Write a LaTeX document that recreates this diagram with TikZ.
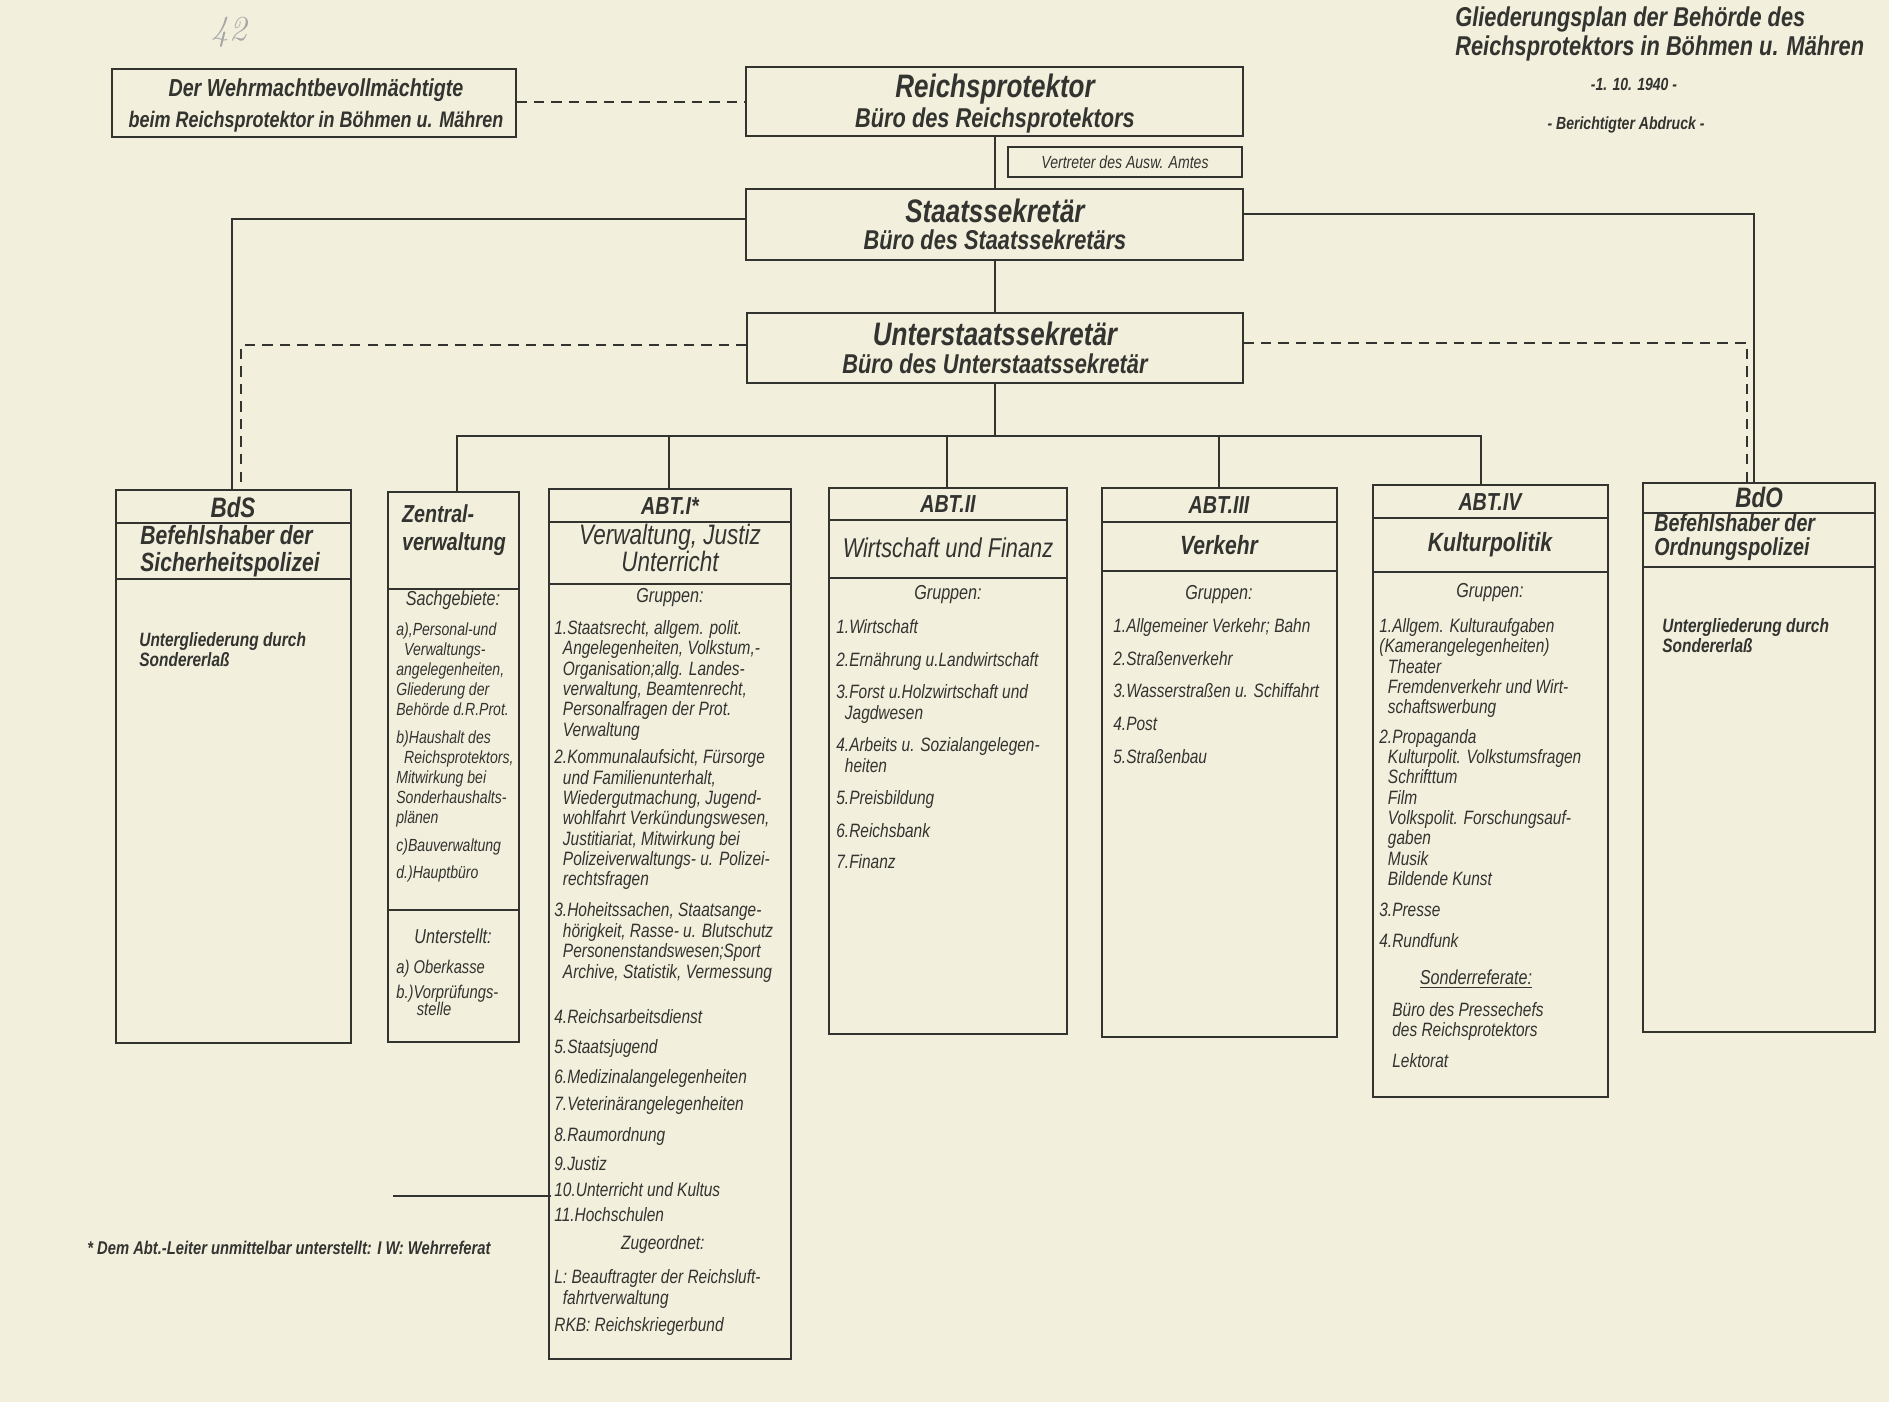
\documentclass[tikz,border=0pt]{standalone}
\usepackage{fontspec}
\newfontfamily\hf{Liberation Sans}[FakeStretch=0.8]
\begin{document}
\begin{tikzpicture}[x=0.02cm,y=-0.02cm,
  box/.style={draw=ink,line width=1.5pt},
  conn/.style={draw=ink,line width=1.1pt},
  dl/.style={draw=ink,line width=1.1pt,dash pattern=on 6pt off 4pt},
  big/.style={text=ink,font=\hf\bfseries\itshape\fontsize{18.5}{19}\selectfont,inner sep=0},
  sub/.style={text=ink,font=\hf\bfseries\itshape\fontsize{15.5}{16}\selectfont,inner sep=0},
  hd/.style={text=ink,font=\hf\bfseries\itshape\fontsize{13}{13.5}\selectfont,inner sep=0,align=center},
  lst/.style={text=ink,font=\hf\itshape\fontsize{11}{11.6}\selectfont,inner sep=0,anchor=north west,align=left},
  ctr/.style={text=ink,font=\hf\itshape\fontsize{11.5}{12}\selectfont,inner sep=0}]
\definecolor{ink}{HTML}{333330}
\definecolor{paper}{HTML}{F2EFDD}
\fill[paper] (0,0) rectangle (1889,1402);
\useasboundingbox (0,0) rectangle (1889,1402);
% handwritten number
\node[text=gray!70,font=\fontsize{20}{20}\selectfont\itshape] (num) at (229,32) {42};
% title
\node[text=ink,font=\hf\bfseries\itshape\fontsize{15.5}{17}\selectfont,align=left,anchor=north west,inner sep=0] (title) at (1455,6) {Gliederungsplan der Behörde des\\Reichsprotektors in Böhmen u. Mähren};
\node[text=ink,font=\hf\bfseries\itshape\fontsize{10}{10}\selectfont] (date) at (1634,84) {-1. 10. 1940 -};
\node[text=ink,font=\hf\bfseries\itshape\fontsize{10}{10}\selectfont] (abdr) at (1626,125) {- Berichtigter Abdruck -};
% top boxes
\draw[box] (112,69) rectangle (516,137); \coordinate (wr) at (516,102);
\node[hd,font=\hf\bfseries\itshape\fontsize{14}{14}\selectfont] (w1) at (316,90) {Der Wehrmachtbevollmächtigte};
\node[hd,font=\hf\bfseries\itshape\fontsize{12.8}{13}\selectfont] (w2) at (316,122) {beim Reichsprotektor in Böhmen u. Mähren};
\draw[box] (746,67) rectangle (1243,136); \coordinate (rl) at (746,102);
\node[big] (rp) at (995,89) {Reichsprotektor};
\node[sub] (rp2) at (995,120) {Büro des Reichsprotektors};
\draw[box,line width=1.2pt] (1008,147) rectangle (1242,177);
\node[text=ink,font=\hf\itshape\fontsize{10}{10}\selectfont] (vt) at (1125,162) {Vertreter des Ausw. Amtes};
\draw[box] (746,189) rectangle (1243,260);
\node[big] (ss) at (995,211) {Staatssekretär};
\node[sub] (ss2) at (995,240) {Büro des Staatssekretärs};
\draw[box] (747,313) rectangle (1243,383);
\node[big] (us) at (995,334) {Unterstaatssekretär};
\node[sub] (us2) at (995,364) {Büro des Unterstaatssekretär};
% connectors
\draw[dl] (wr) -- (rl);
\draw[conn] (995,136) -- (995,189);
\draw[conn] (995,260) -- (995,313);
\draw[conn] (995,383) -- (995,436);
\draw[conn] (746,219) -- (232,219) -- (232,490);
\draw[conn] (1243,214) -- (1754,214) -- (1754,483);
\draw[dl] (747,345) -- (241,345) -- (241,490);
\draw[dl] (1243,343) -- (1747,343) -- (1747,483);
\draw[conn] (457,492) -- (457,436) -- (1481,436) -- (1481,485);
\draw[conn] (669,436) -- (669,489);
\draw[conn] (947,436) -- (947,488);
\draw[conn] (1219,436) -- (1219,488);
% BdS
\draw[box] (116,490) rectangle (351,1043); \draw[box] (116,523) -- (351,523); \draw[box] (116,579) -- (351,579);
\node[hd,font=\hf\bfseries\itshape\fontsize{16}{16}\selectfont] (bds) at (233,507) {BdS};
\node[hd,align=left,font=\hf\bfseries\itshape\fontsize{15}{15.5}\selectfont] (bds2) at (230,551) {Befehlshaber der\\Sicherheitspolizei};
\node[lst,font=\hf\bfseries\itshape\fontsize{11}{11.5}\selectfont] (bds3) at (139,632) {Untergliederung durch\\Sondererlaß};
% Zentral
\draw[box] (388,492) rectangle (519,1042); \draw[box] (388,589) -- (519,589); \draw[box] (388,910) -- (519,910);
\node[hd,align=left,font=\hf\bfseries\itshape\fontsize{14}{16}\selectfont] (zv) at (454,530) {Zentral-\\verwaltung};
\node[ctr] (sg) at (453,600) {Sachgebiete:};
\node[lst,font=\hf\itshape\fontsize{10}{11.5}\selectfont] (zl) at (396,622) {a),Personal-und\\\ \ Verwaltungs-\\angelegenheiten,\\Gliederung der\\Behörde d.R.Prot.\\[4pt]b)Haushalt des\\\ \ Reichsprotektors,\\Mitwirkung bei\\Sonderhaushalts-\\plänen\\[4pt]c)Bauverwaltung\\[4pt]d.)Hauptbüro};
\node[ctr] (ust) at (453,936) {Unterstellt:};
\node[lst,font=\hf\itshape\fontsize{10.5}{10}\selectfont] (zl2) at (396,960) {a) Oberkasse\\[4pt]b.)Vorprüfungs-\\\ \ \ \ \ stelle};
% ABT I
\draw[box] (549,489) rectangle (791,1359); \draw[box] (549,522) -- (791,522); \draw[box] (549,584) -- (791,584);
\node[hd,font=\hf\bfseries\itshape\fontsize{14}{14}\selectfont] (a1) at (670,506) {ABT.I*};
\node[hd,font=\hf\itshape\fontsize{16}{15}\selectfont] (a1b) at (670,548) {Verwaltung, Justiz\\Unterricht};
\node[ctr] (g1) at (670,598) {Gruppen:};
\node[lst] (l1) at (554,620) {1.Staatsrecht, allgem. polit.\\\ \ Angelegenheiten, Volkstum,-\\\ \ Organisation;allg. Landes-\\\ \ verwaltung, Beamtenrecht,\\\ \ Personalfragen der Prot.\\\ \ Verwaltung\\[4pt]2.Kommunalaufsicht, Fürsorge\\\ \ und Familienunterhalt,\\\ \ Wiedergutmachung, Jugend-\\\ \ wohlfahrt Verkündungswesen,\\\ \ Justitiariat, Mitwirkung bei\\\ \ Polizeiverwaltungs- u. Polizei-\\\ \ rechtsfragen\\[6pt]3.Hoheitssachen, Staatsange-\\\ \ hörigkeit, Rasse- u. Blutschutz\\\ \ Personenstandswesen;Sport\\\ \ Archive, Statistik, Vermessung\\[14pt]4.Reichsarbeitsdienst\\[6pt]5.Staatsjugend\\[5pt]6.Medizinalangelegenheiten\\[4pt]7.Veterinärangelegenheiten\\[6pt]8.Raumordnung\\[5pt]9.Justiz\\[3pt]10.Unterricht und Kultus\\[3pt]11.Hochschulen\\[4pt]\hspace*{38pt}Zugeordnet:\\[8pt]L: Beauftragter der Reichsluft-\\\ \ fahrtverwaltung\\[4pt]RKB: Reichskriegerbund};
\coordinate (fl) at (393,1196);
\draw[conn] (fl) -- (551,1196);
\node[text=ink,font=\hf\bfseries\itshape\fontsize{10.5}{10}\selectfont,anchor=west,inner sep=0] (fn) at (87,1248) {* Dem Abt.-Leiter unmittelbar unterstellt: I W: Wehrreferat};
% ABT II
\draw[box] (829,488) rectangle (1067,1034); \draw[box] (829,520) -- (1067,520); \draw[box] (829,578) -- (1067,578);
\node[hd,font=\hf\bfseries\itshape\fontsize{14}{14}\selectfont] (a2) at (948,504) {ABT.II};
\node[hd,font=\hf\itshape\fontsize{15.5}{14}\selectfont] (a2b) at (948,548) {Wirtschaft und Finanz};
\node[ctr] (g2) at (948,595) {Gruppen:};
\node[lst] (l2) at (836,619) {1.Wirtschaft\\[7pt]2.Ernährung u.Landwirtschaft\\[7pt]3.Forst u.Holzwirtschaft und\\\ \ Jagdwesen\\[7pt]4.Arbeits u. Sozialangelegen-\\\ \ heiten\\[7pt]5.Preisbildung\\[7pt]6.Reichsbank\\[6pt]7.Finanz};
% ABT III
\draw[box] (1102,488) rectangle (1337,1037); \draw[box] (1102,522) -- (1337,522); \draw[box] (1102,571) -- (1337,571);
\node[hd,font=\hf\bfseries\itshape\fontsize{14}{14}\selectfont] (a3) at (1219,505) {ABT.III};
\node[hd,font=\hf\bfseries\itshape\fontsize{15}{14}\selectfont] (a3b) at (1219,545) {Verkehr};
\node[ctr] (g3) at (1219,595) {Gruppen:};
\node[lst] (l3) at (1113,618) {1.Allgemeiner Verkehr; Bahn\\[7pt]2.Straßenverkehr\\[7pt]3.Wasserstraßen u. Schiffahrt\\[7pt]4.Post\\[7pt]5.Straßenbau};
% ABT IV
\draw[box] (1373,485) rectangle (1608,1097); \draw[box] (1373,518) -- (1608,518); \draw[box] (1373,572) -- (1608,572);
\node[hd,font=\hf\bfseries\itshape\fontsize{14}{14}\selectfont] (a4) at (1490,502) {ABT.IV};
\node[hd,font=\hf\bfseries\itshape\fontsize{15}{14}\selectfont] (a4b) at (1490,545) {Kulturpolitik};
\node[ctr] (g4) at (1490,593) {Gruppen:};
\node[lst] (l4) at (1379,618) {1.Allgem. Kulturaufgaben\\(Kamerangelegenheiten)\\\ \ Theater\\\ \ Fremdenverkehr und Wirt-\\\ \ schaftswerbung\\[5pt]2.Propaganda\\\ \ Kulturpolit. Volkstumsfragen\\\ \ Schrifttum\\\ \ Film\\\ \ Volkspolit. Forschungsauf-\\\ \ gaben\\\ \ Musik\\\ \ Bildende Kunst\\[6pt]3.Presse\\[6pt]4.Rundfunk};
\node[ctr] (sr) at (1476,979) {\underline{Sonderreferate:}};
\node[lst] (l4b) at (1392,1002) {Büro des Pressechefs\\des Reichsprotektors\\[6pt]Lektorat};
% BdO
\draw[box] (1643,483) rectangle (1875,1032); \draw[box] (1643,513) -- (1875,513); \draw[box] (1643,567) -- (1875,567);
\node[hd,font=\hf\bfseries\itshape\fontsize{16}{16}\selectfont] (bdo) at (1759,497) {BdO};
\node[hd,align=left,anchor=west,font=\hf\bfseries\itshape\fontsize{14}{14}\selectfont] (bdo2) at (1654,537) {Befehlshaber der\\Ordnungspolizei};
\node[lst,font=\hf\bfseries\itshape\fontsize{11}{11.5}\selectfont] (bdo3) at (1662,618) {Untergliederung durch\\Sondererlaß};
\end{tikzpicture}
\end{document}
